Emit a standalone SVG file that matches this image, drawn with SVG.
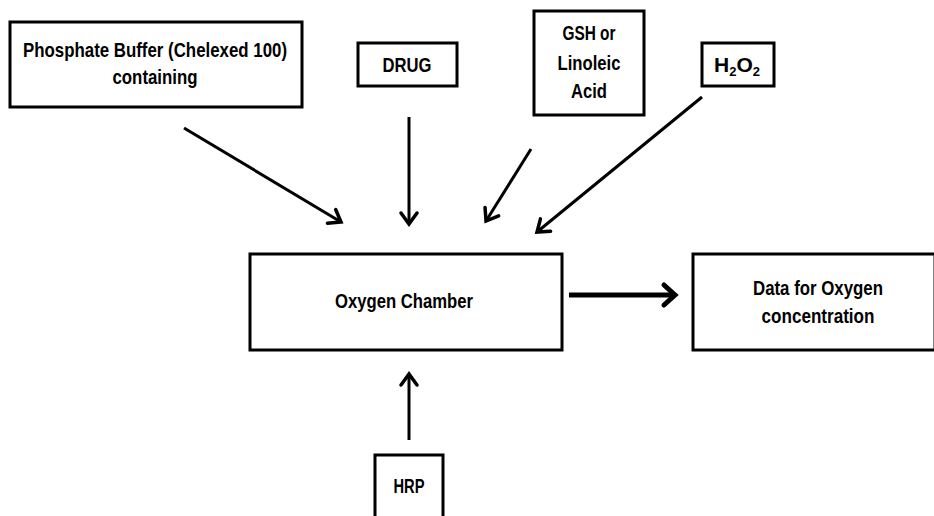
<svg xmlns="http://www.w3.org/2000/svg" width="934" height="516" viewBox="0 0 934 516">
<defs>
<style>
.box{fill:#fff;stroke:#000;stroke-width:3}
.t{font-family:"Liberation Sans",Arial,sans-serif;font-weight:bold;font-size:21px;fill:#000;text-anchor:middle}
.sub{font-size:13px;baseline-shift:-4px}
.c{stroke:#000;stroke-width:3;fill:none}
.cb{stroke:#000;stroke-width:5;fill:none}
</style>
<marker id="ah" markerUnits="userSpaceOnUse" markerWidth="30" markerHeight="30" viewBox="-15 -15 30 30" refX="0" refY="0" orient="auto">
<path d="M-11,-8 L0,0 L-11,8" fill="none" stroke="#000" stroke-width="3.5" stroke-linecap="round" stroke-linejoin="miter"/>
</marker>
<marker id="ahb" markerUnits="userSpaceOnUse" markerWidth="30" markerHeight="30" viewBox="-15 -15 30 30" refX="0" refY="0" orient="auto">
<path d="M-11,-10 L0,0 L-11,10" fill="none" stroke="#000" stroke-width="5" stroke-linecap="round"/>
</marker>
</defs>
<rect width="934" height="516" fill="#fff"/>
<g id="phosphate">
<rect class="box" x="10" y="22" width="292" height="85"/>
<text class="t" x="155" y="57" textLength="264" lengthAdjust="spacingAndGlyphs">Phosphate Buffer (Chelexed 100)</text>
<text class="t" x="155" y="84" textLength="85" lengthAdjust="spacingAndGlyphs">containing</text>
</g>
<g id="drug">
<rect class="box" x="358" y="43" width="99" height="43"/>
<text class="t" x="407" y="72" textLength="49" lengthAdjust="spacingAndGlyphs">DRUG</text>
</g>
<g id="gsh">
<rect class="box" x="534" y="11" width="110" height="104"/>
<text class="t" x="589" y="40" textLength="53" lengthAdjust="spacingAndGlyphs">GSH or</text>
<text class="t" x="589" y="70" textLength="63" lengthAdjust="spacingAndGlyphs">Linoleic</text>
<text class="t" x="589" y="98" textLength="36" lengthAdjust="spacingAndGlyphs">Acid</text>
</g>
<g id="h2o2">
<rect class="box" x="702" y="43" width="72" height="43"/>
<text class="t" x="737" y="72">H<tspan class="sub">2</tspan>O<tspan class="sub">2</tspan></text>
</g>
<g id="chamber">
<rect class="box" x="250" y="254" width="312" height="96"/>
<text class="t" x="404" y="308" textLength="138" lengthAdjust="spacingAndGlyphs">Oxygen Chamber</text>
</g>
<g id="data">
<rect class="box" x="693" y="254" width="242" height="96"/>
<text class="t" x="818" y="295" textLength="130" lengthAdjust="spacingAndGlyphs">Data for Oxygen</text>
<text class="t" x="818" y="323" textLength="113" lengthAdjust="spacingAndGlyphs">concentration</text>
</g>
<g id="hrp">
<rect class="box" x="375" y="455" width="68" height="70"/>
<text class="t" x="409" y="493" textLength="31" lengthAdjust="spacingAndGlyphs">HRP</text>
</g>
<g id="connectors">
<line class="c" x1="184" y1="128" x2="341" y2="222" marker-end="url(#ah)"/>
<line class="c" x1="409" y1="117" x2="409" y2="224" marker-end="url(#ah)"/>
<line class="c" x1="531" y1="149" x2="486" y2="221" marker-end="url(#ah)"/>
<line class="c" x1="702" y1="97" x2="537" y2="232" marker-end="url(#ah)"/>
<line class="cb" x1="569" y1="295" x2="675" y2="295" marker-end="url(#ahb)"/>
<line class="c" x1="409" y1="440" x2="409" y2="374" marker-end="url(#ah)"/>
</g>
</svg>
